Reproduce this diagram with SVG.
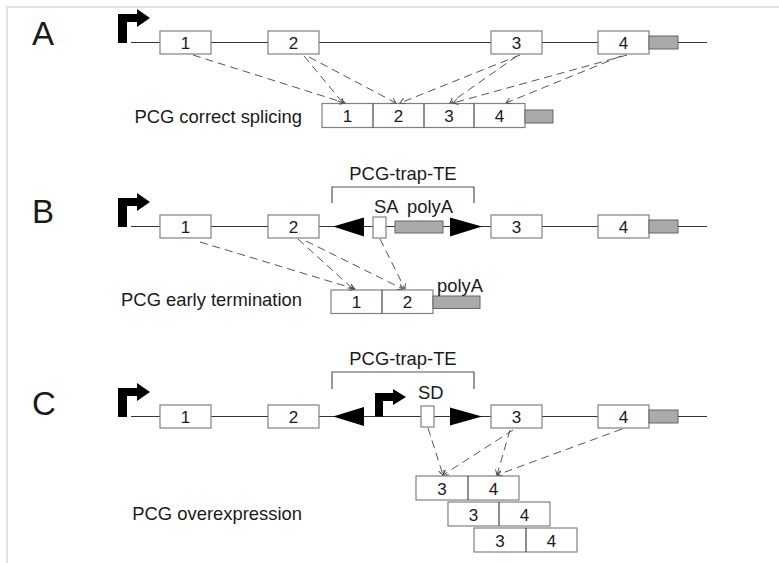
<svg xmlns="http://www.w3.org/2000/svg" width="779" height="563" viewBox="0 0 779 563">
<defs>
<style>
.frame{fill:none;stroke:#e2e2e2;stroke-width:2}
.gene{stroke:#333;stroke-width:1.2;fill:none}
.exon{fill:#fff;stroke:#808080;stroke-width:1.2}
.div{stroke:#444;stroke-width:1.2}
.utr{fill:#aaa;stroke:#666;stroke-width:1}
.solid{fill:#000}
.brk{fill:none;stroke:#555;stroke-width:1.2}
.dash{fill:none;stroke:#555;stroke-width:1;stroke-dasharray:8,5;marker-end:url(#ah)}
text{font-family:"Liberation Sans",Arial,sans-serif;fill:#1a1a1a}
.big{font-size:33px}
.lbl{font-size:18.4px}
.num{font-size:17px;text-anchor:middle}
</style>
<marker id="ah" markerWidth="7" markerHeight="7" refX="5" refY="3" orient="auto" markerUnits="userSpaceOnUse">
<path d="M0,0 L5,3 L0,6" fill="none" stroke="#555" stroke-width="1"/>
</marker>
<path id="prom" d="M118,43 V14 H137 V9 L150,18 L137,27 V22 H127 V43 Z"/>
</defs>
<path class="frame" d="M7,563 V7 H779"/>

<g id="panelA">
<text class="big" x="32" y="45">A</text>
<g id="A-gene">
<line class="gene" x1="131" y1="42.5" x2="707" y2="42.5"/>
<use href="#prom" class="solid"/>
<g id="A-exon1"><rect class="exon" x="160" y="31" width="51" height="23"/><text class="num" x="185.5" y="48.5">1</text></g>
<g id="A-exon2"><rect class="exon" x="268" y="31" width="51" height="23"/><text class="num" x="293.5" y="48.5">2</text></g>
<g id="A-exon3"><rect class="exon" x="491" y="31" width="51" height="23"/><text class="num" x="516.5" y="48.5">3</text></g>
<g id="A-exon4"><rect class="exon" x="598" y="31" width="51" height="23"/><text class="num" x="623.5" y="48.5">4</text></g>
<rect class="utr" x="649" y="36" width="29" height="13"/>
</g>
<g id="A-transcript">
<text class="lbl" x="302" y="123" text-anchor="end">PCG correct splicing</text>
<rect class="exon" x="322" y="103.5" width="203" height="24"/>
<line class="div" x1="373" y1="103.5" x2="373" y2="127.5"/>
<line class="div" x1="424" y1="103.5" x2="424" y2="127.5"/>
<line class="div" x1="474" y1="103.5" x2="474" y2="127.5"/>
<text class="num" x="347.5" y="122">1</text>
<text class="num" x="398.5" y="122">2</text>
<text class="num" x="449" y="122">3</text>
<text class="num" x="499.5" y="122">4</text>
<rect class="utr" x="525" y="110" width="28" height="13"/>
</g>
</g>

<g id="panelB">
<text class="big" x="32" y="223">B</text>
<g id="B-gene">
<line class="gene" x1="131" y1="226.5" x2="707" y2="226.5"/>
<use href="#prom" class="solid" transform="translate(0,184)"/>
<g id="B-exon1"><rect class="exon" x="160" y="215" width="51" height="23"/><text class="num" x="185.5" y="232.5">1</text></g>
<g id="B-exon2"><rect class="exon" x="268" y="215" width="51" height="23"/><text class="num" x="293.5" y="232.5">2</text></g>
<g id="B-exon3"><rect class="exon" x="491" y="215" width="51" height="23"/><text class="num" x="516.5" y="232.5">3</text></g>
<g id="B-exon4"><rect class="exon" x="598" y="215" width="51" height="23"/><text class="num" x="623.5" y="232.5">4</text></g>
<rect class="utr" x="649" y="220" width="29" height="13"/>
</g>
<g id="B-te">
<path class="brk" d="M332,203 V187 H474 V203"/>
<text class="lbl" x="403" y="180" text-anchor="middle">PCG-trap-TE</text>
<polygon class="solid" points="333,226.5 364,217.5 364,236.5"/>
<polygon class="solid" points="450,217.5 450,236.5 482,226.5"/>
<rect class="exon" x="373" y="217" width="13" height="21"/>
<rect class="utr" x="395" y="221" width="48" height="12"/>
<text class="lbl" x="374" y="213">SA</text>
<text class="lbl" x="407" y="213">polyA</text>
</g>
<g id="B-transcript">
<text class="lbl" x="302" y="306" text-anchor="end">PCG early termination</text>
<rect class="exon" x="331" y="290" width="102" height="23.5"/>
<line class="div" x1="382" y1="290" x2="382" y2="313.5"/>
<text class="num" x="356.5" y="308">1</text>
<text class="num" x="407.5" y="308">2</text>
<rect class="utr" x="433" y="296" width="47" height="12.5"/>
<text class="lbl" x="437" y="291.5">polyA</text>
</g>
</g>

<g id="panelC">
<text class="big" x="32" y="415">C</text>
<g id="C-gene">
<line class="gene" x1="131" y1="416.5" x2="707" y2="416.5"/>
<use href="#prom" class="solid" transform="translate(0,374)"/>
<g id="C-exon1"><rect class="exon" x="160" y="405" width="51" height="23"/><text class="num" x="185.5" y="422.5">1</text></g>
<g id="C-exon2"><rect class="exon" x="268" y="405" width="51" height="23"/><text class="num" x="293.5" y="422.5">2</text></g>
<g id="C-exon3"><rect class="exon" x="491" y="405" width="51" height="23"/><text class="num" x="516.5" y="422.5">3</text></g>
<g id="C-exon4"><rect class="exon" x="598" y="405" width="51" height="23"/><text class="num" x="623.5" y="422.5">4</text></g>
<rect class="utr" x="649" y="410" width="29" height="13"/>
</g>
<g id="C-te">
<path class="brk" d="M332,389 V372 H474 V389"/>
<text class="lbl" x="403" y="365" text-anchor="middle">PCG-trap-TE</text>
<polygon class="solid" points="333,416.5 364,407 364,426"/>
<polygon class="solid" points="450,407.5 450,425.5 482,416.5"/>
<path class="solid" d="M375,416.5 V393 H393 V389 L406,397 L393,405 V401 H383 V416.5 Z"/>
<rect class="exon" x="421" y="406" width="13" height="21"/>
<text class="lbl" x="418" y="399">SD</text>
</g>
<g id="C-transcripts">
<text class="lbl" x="302" y="520" text-anchor="end">PCG overexpression</text>
<g id="C-tx1">
<rect class="exon" x="416" y="476" width="103" height="24"/>
<line class="div" x1="468" y1="476" x2="468" y2="500"/>
<text class="num" x="442" y="494.5">3</text><text class="num" x="493.5" y="494.5">4</text>
</g>
<g id="C-tx2">
<rect class="exon" x="448" y="502" width="102" height="24"/>
<line class="div" x1="499" y1="502" x2="499" y2="526"/>
<text class="num" x="473.5" y="520.5">3</text><text class="num" x="524.5" y="520.5">4</text>
</g>
<g id="C-tx3">
<rect class="exon" x="474" y="528" width="103" height="24"/>
<line class="div" x1="526" y1="528" x2="526" y2="552"/>
<text class="num" x="500" y="546.5">3</text><text class="num" x="551.5" y="546.5">4</text>
</g>
</g>
</g>

<g id="connectors">
<line class="dash" x1="193" y1="55" x2="345" y2="103"/>
<line class="dash" x1="304" y1="56" x2="343" y2="103"/>
<line class="dash" x1="309" y1="57" x2="396" y2="103"/>
<line class="dash" x1="520" y1="55" x2="400" y2="103"/>
<line class="dash" x1="517" y1="56" x2="450" y2="103"/>
<line class="dash" x1="627" y1="55" x2="453" y2="103"/>
<line class="dash" x1="621" y1="56" x2="506" y2="103"/>

<line class="dash" x1="200" y1="242" x2="355" y2="289"/>
<line class="dash" x1="298" y1="239" x2="353" y2="289"/>
<line class="dash" x1="306" y1="241" x2="403" y2="289"/>
<line class="dash" x1="380" y1="239" x2="405" y2="289"/>

<line class="dash" x1="428" y1="428" x2="443" y2="475"/>
<line class="dash" x1="513" y1="430" x2="443" y2="475"/>
<line class="dash" x1="510" y1="430" x2="497" y2="475"/>
<line class="dash" x1="622" y1="429" x2="497" y2="475"/>
</g>
</svg>
